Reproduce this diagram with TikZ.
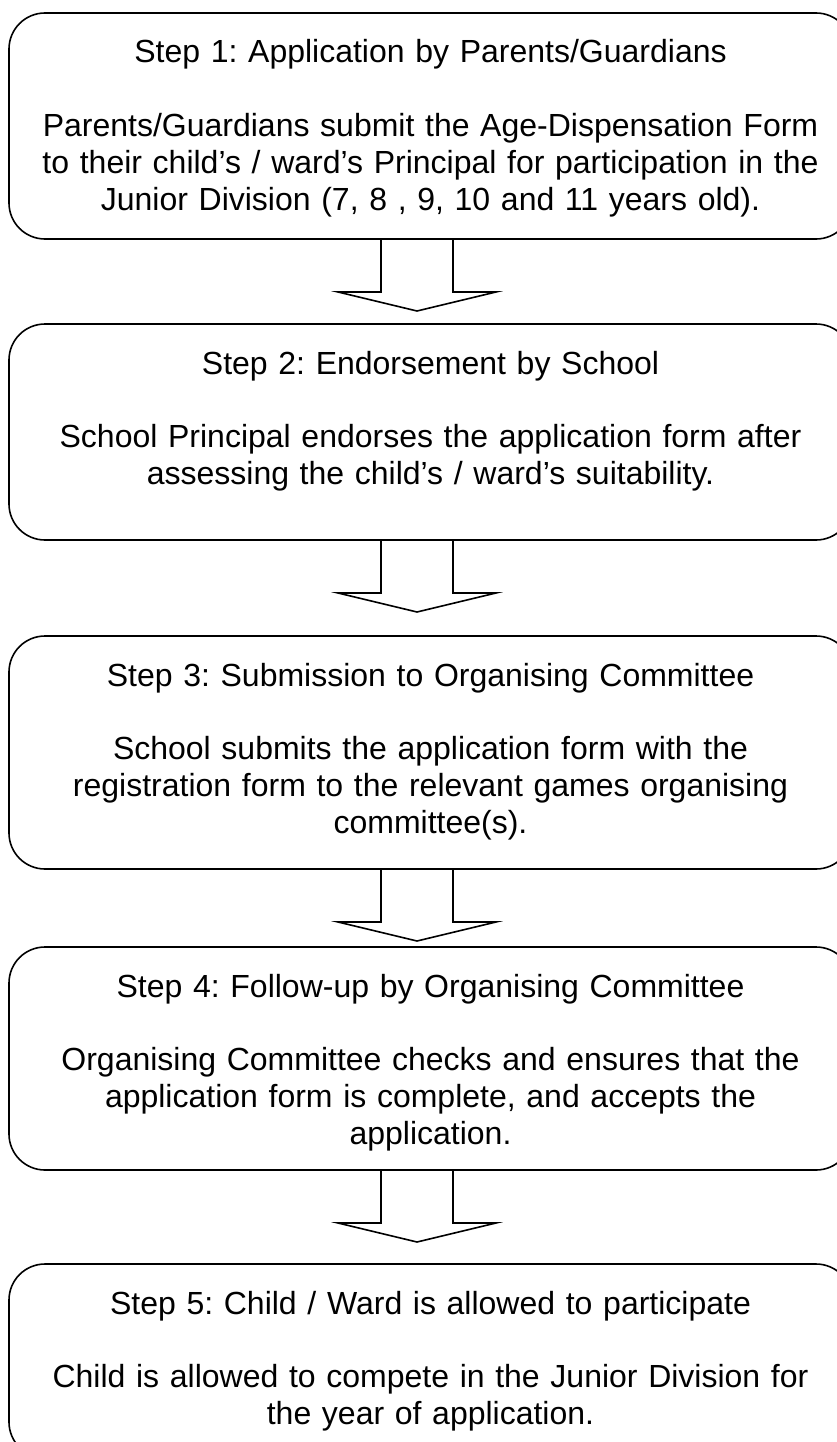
\documentclass[tikz,border=0pt]{standalone}
\usepackage{fontspec}
\setmainfont{Liberation Sans}
\frenchspacing
\usetikzlibrary{calc}

\tikzset{
  stepbox/.style={draw, line width=1.6pt, rounded corners=36pt, inner sep=0pt, outer sep=0pt,
    text width=843pt, align=center, anchor=north, text height=50pt,
    font=\fontsize{32pt}{36.8pt}\selectfont},
  blockarrow/.style={draw, line width=1.6pt, line join=miter}
}

\begin{document}
\begin{tikzpicture}[x=1pt,y=1pt]
\useasboundingbox (0,0) rectangle (837,-1442);
\clip (0,0) rectangle (837,-1442);

\node[stepbox, text depth=176pt] (s1) at (430.5,-13) {Step 1: Application by Parents/Guardians\\[36.8pt]
  Parents/Guardians submit the Age-Dispensation Form\\
  to their child’s / ward’s Principal for participation in the\\
  Junior Division (7, 8 , 9, 10 and 11 years old).};
\node[stepbox, text depth=166pt] (s2) at (430.5,-324) {Step 2: Endorsement by School\\[36.8pt]
  School Principal endorses the application form after\\
  assessing the child’s / ward’s suitability.};
\node[stepbox, text depth=183pt] (s3) at (430.5,-636) {Step 3: Submission to Organising Committee\\[36.8pt]
  School submits the application form with the\\
  registration form to the relevant games organising\\
  committee(s).};
\node[stepbox, text depth=173pt] (s4) at (430.5,-947) {Step 4: Follow-up by Organising Committee\\[36.8pt]
  Organising Committee checks and ensures that the\\
  application form is complete, and accepts the\\
  application.};
\node[stepbox, text depth=144pt] (s5) at (430.5,-1264) {Step 5: Child / Ward is allowed to participate\\[36.8pt]
  Child is allowed to compete in the Junior Division for\\
  the year of application.};

% block arrows between the steps
\foreach \a in {s1,s2,s3,s4}
  \draw[blockarrow] ($(\a.south)+(-49.5,0)$) -- ++(0,-53) -- ++(-43,0) -- ++(79,-19)
    -- ++(79,19) -- ++(-43,0) -- ++(0,53);
\end{tikzpicture}
\end{document}
